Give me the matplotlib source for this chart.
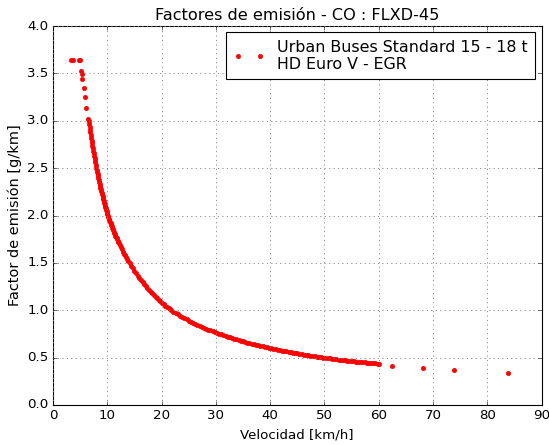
import numpy as np
import matplotlib
matplotlib.use("Agg")
import matplotlib.pyplot as plt

# Speeds [km/h] and CO emission factor [g/km]
velocidad = [
    3.25, 3.6, 4.7, 4.9,
    5.25, 5.3, 5.38, 5.67, 5.93, 6.17, 6.48, 6.6,
    6.675, 6.75, 6.825, 6.9, 6.975, 7.05, 7.125, 7.2, 7.275, 7.35, 7.425, 7.5,
    7.575, 7.65, 7.725, 7.8, 7.9, 8.0,
    8.075, 8.15, 8.225, 8.3, 8.375, 8.45, 8.525, 8.6, 8.675, 8.75, 8.825, 8.9,
    8.975, 9.05, 9.125, 9.2, 9.275, 9.35, 9.425, 9.5, 9.575, 9.65, 9.725, 9.8,
    9.875, 9.95, 10.025, 10.1,
    10.2, 10.3, 10.4, 10.5, 10.6, 10.7, 10.8, 10.9, 11.0, 11.1, 11.2, 11.3, 11.4,
    11.5, 11.6, 11.7, 11.8, 11.9, 12.0, 12.1, 12.3, 12.5, 12.7,
    12.9, 13.1, 13.3, 13.5, 13.7, 13.9, 14.1,
    14.4, 14.7, 15.0, 15.3, 15.6, 15.9, 16.2, 16.5, 16.8, 17.1, 17.4, 17.7, 18.0,
    18.3, 18.6, 18.9, 19.2, 19.5, 19.8, 20.1, 20.4, 20.7, 21.0, 21.3, 21.6, 21.8,
    22.2, 22.6, 23.0, 23.4, 23.8, 24.2, 24.6, 25.0, 25.4, 25.8, 26.2, 26.6, 27.0,
    27.4, 27.8, 28.2, 28.6, 29.0, 29.4, 29.8, 30.2, 30.6, 31.0, 31.4, 31.8, 32.2,
    32.6, 33.0, 33.4, 33.8, 34.2, 34.6, 35.0, 35.4, 35.8, 36.2, 36.6, 37.0, 37.4,
    37.8, 38.2, 38.6, 39.0, 39.4, 39.8, 40.2, 40.6, 41.0, 41.4, 41.8, 42.2, 42.6,
    43.0, 43.4, 43.8, 44.2, 44.6, 45.0, 45.4, 45.8, 46.2, 46.6, 47.0, 47.4, 47.8,
    48.2, 48.6, 49.0, 49.4, 49.8,
    50.2, 50.6, 51.0, 51.4, 51.8, 52.2, 52.6, 53.0, 53.4, 53.8, 54.2, 54.6, 55.0,
    55.4, 55.8, 56.2, 56.6, 57.0, 57.4, 57.8, 58.2, 58.6, 59.0, 59.4, 59.8, 60.0,
    62.4, 68.1, 73.8, 83.9,
]
factor_emision = [
    3.64, 3.64, 3.64, 3.64,
    3.52, 3.49, 3.44, 3.35, 3.25, 3.13, 3.02, 3.0,
    2.969, 2.937, 2.907, 2.876, 2.847, 2.818, 2.790, 2.762, 2.735, 2.708, 2.683,
    2.657, 2.632, 2.607, 2.584, 2.560, 2.530, 2.5,
    2.478, 2.456, 2.435, 2.413, 2.393, 2.372, 2.353, 2.333, 2.314, 2.295, 2.277,
    2.258, 2.240, 2.222, 2.205, 2.187, 2.170, 2.153, 2.137, 2.121, 2.105, 2.089,
    2.074, 2.059, 2.044, 2.029, 2.015, 2.0,
    1.983, 1.966, 1.950, 1.934, 1.918, 1.903, 1.888, 1.873, 1.858, 1.844, 1.830,
    1.816, 1.802, 1.788, 1.775, 1.762, 1.749, 1.736, 1.724, 1.712, 1.688,
    1.664, 1.642, 1.620, 1.598, 1.578, 1.557, 1.538, 1.519, 1.5,
    1.471, 1.443, 1.416, 1.390, 1.365, 1.341, 1.318, 1.296, 1.274, 1.254, 1.234,
    1.214, 1.195, 1.177, 1.159, 1.142, 1.126, 1.110, 1.094, 1.079, 1.064, 1.050,
    1.036, 1.022, 1.009, 1.0,
    0.9848, 0.9703, 0.9560, 0.9423, 0.9290, 0.9161, 0.9036, 0.8914, 0.8797,
    0.8682, 0.8570, 0.8462, 0.8357, 0.8255, 0.8155, 0.8058, 0.7963, 0.7871,
    0.7781, 0.7693, 0.7608, 0.7524, 0.7442, 0.7363, 0.7285, 0.7209, 0.7135,
    0.7062, 0.6990, 0.6921, 0.6854, 0.6787, 0.6722, 0.6658, 0.6596, 0.6534,
    0.6474, 0.6416, 0.6358, 0.6301, 0.6246, 0.6191, 0.6138, 0.6086, 0.6034,
    0.5984, 0.5935, 0.5886, 0.5838, 0.5791, 0.5746, 0.5700, 0.5656, 0.5612,
    0.5569, 0.5527, 0.5485, 0.5444, 0.5404, 0.5364, 0.5325, 0.5287, 0.5250,
    0.5212, 0.5175, 0.5139, 0.5104, 0.5069, 0.5034, 0.5,
    0.4970, 0.4940, 0.4912, 0.4883, 0.4854, 0.4826, 0.4799, 0.4772, 0.4745,
    0.4718, 0.4692, 0.4667, 0.4641, 0.4616, 0.4591, 0.4567, 0.4542, 0.4518,
    0.4495, 0.4471, 0.4448, 0.4426, 0.4403, 0.4381, 0.4359, 0.437,
    0.415, 0.394, 0.372, 0.341,
]

etiqueta = "Urban Buses Standard 15 - 18 t\nHD Euro V - EGR"

plt.style.use("classic")
plt.rcParams["figure.facecolor"] = "white"
plt.rcParams["savefig.facecolor"] = "white"

fig = plt.figure(figsize=(549 / 80, 445 / 80), dpi=80)
ax = fig.add_axes([53 / 549, 40 / 445, 488.5 / 549, 379 / 445])

ax.plot(velocidad, factor_emision, "o", color="red", markeredgecolor="red",
        markersize=4, label=etiqueta)

ax.set_xlim(0, 90)
ax.set_ylim(0, 4.0)
ax.set_xticks(np.arange(0, 91, 10))
ax.set_yticks(np.arange(0, 4.01, 0.5))
ax.tick_params(labelsize=12)
ax.grid(True, color="gray", linestyle=":", linewidth=0.8)

ax.set_title("Factores de emisión - CO : FLXD-45", fontsize=14.5)
ax.set_xlabel("Velocidad [km/h]", fontsize=12)
ax.set_ylabel("Factor de emisión [g/km]", fontsize=13)
ax.legend(loc="upper right", numpoints=2, fontsize=14.3, fancybox=False,
          borderaxespad=0.4, borderpad=0.45)

fig.savefig("out.png", dpi=80)
